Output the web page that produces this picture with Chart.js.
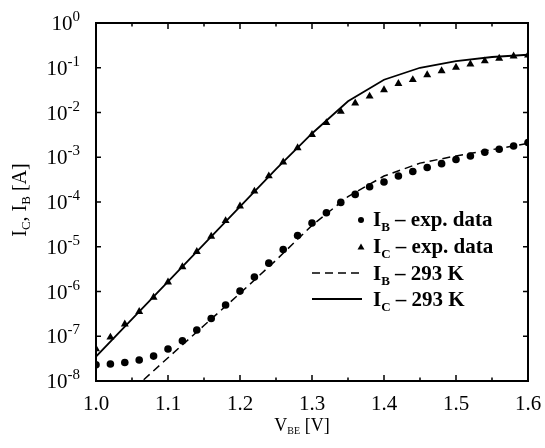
<!DOCTYPE html>
<html>
<head>
<meta charset="utf-8">
<script src="https://cdn.jsdelivr.net/npm/chart.js@4.4.1/dist/chart.umd.min.js"></script>
<style>
  html, body { margin: 0; padding: 0; background: #fff; }
  canvas { display: block; }
</style>
</head>
<body>
<canvas id="chart" width="545" height="448"></canvas>
<script>
// measured points, every 20 mV
const vbeExp = [1.00, 1.02, 1.04, 1.06, 1.08, 1.10, 1.12, 1.14, 1.16, 1.18, 1.20,
  1.22, 1.24, 1.26, 1.28, 1.30, 1.32, 1.34, 1.36, 1.38, 1.40,
  1.42, 1.44, 1.46, 1.48, 1.50, 1.52, 1.54, 1.56, 1.58, 1.60]
const ibExp = [2.3e-8, 2.4e-8, 2.6e-8, 2.95e-8, 3.6e-8, 5.2e-8, 7.9e-8, 1.38e-7, 2.5e-7, 5.0e-7, 1.02e-6,
  2.1e-6, 4.3e-6, 8.7e-6, 1.78e-5, 3.4e-5, 5.75e-5, 9.8e-5, 1.48e-4, 2.19e-4, 2.8e-4,
  3.8e-4, 4.8e-4, 5.9e-4, 7.2e-4, 8.9e-4, 1.07e-3, 1.29e-3, 1.51e-3, 1.78e-3, 2.14e-3]
const icExp = [5.2e-8, 9.5e-8, 1.86e-7, 3.55e-7, 7.4e-7, 1.62e-6, 3.55e-6, 7.8e-6, 1.7e-5, 3.8e-5, 8.1e-5,
  1.74e-4, 3.8e-4, 7.8e-4, 1.62e-3, 3.2e-3, 5.9e-3, 1.05e-2, 1.62e-2, 2.3e-2, 3.2e-2,
  4.4e-2, 5.4e-2, 6.9e-2, 8.5e-2, 0.102, 0.12, 0.141, 0.162, 0.182, 0.19]

// simulated curves (293 K)
const vbeModel = [1.00, 1.05, 1.10, 1.15, 1.20, 1.25, 1.30, 1.35, 1.40, 1.45, 1.50, 1.55, 1.60]
const ibModel = [1.1e-9, 6.2e-9, 3.3e-8, 1.74e-7, 9.1e-7, 5.0e-6, 3.0e-5, 1.32e-4, 3.8e-4, 7.4e-4, 1.07e-3, 1.48e-3, 2.04e-3]
const icModel = [3.5e-8, 2.4e-7, 1.66e-6, 1.15e-5, 7.9e-5, 5.4e-4, 3.4e-3, 1.78e-2, 5.4e-2, 0.1, 0.141, 0.174, 0.195]

const xTicks = [1.0, 1.1, 1.2, 1.3, 1.4, 1.5, 1.6]
const xMinorTicks = [1.05, 1.15, 1.25, 1.35, 1.45, 1.55]
const yTickExponents = [0, -1, -2, -3, -4, -5, -6, -7, -8]

const SERIF = '"Liberation Serif", "Times New Roman", serif'

const toPoints = (xs, ys) => xs.map((x, i) => ({ x: x, y: ys[i] }))

// text with sub/superscripts, parts = [[text, 'n'|'sub'|'sup'], ...]
function drawRich(ctx, parts, x, y, opts) {
  const w = opts.weight || 'normal'
  const fonts = {
    n: w + ' ' + opts.size + 'px ' + SERIF,
    sub: w + ' ' + opts.small + 'px ' + SERIF,
    sup: w + ' ' + opts.small + 'px ' + SERIF,
  }
  const shift = { n: 0, sub: opts.drop || 0, sup: -(opts.rise || 0) }
  let total = 0
  parts.forEach(p => {
    ctx.font = fonts[p[1]]
    total += ctx.measureText(p[0]).width
  })
  let cx = x
  if (opts.align === 'center') cx = x - total / 2
  if (opts.align === 'right') cx = x - total
  ctx.textAlign = 'left'
  ctx.textBaseline = 'alphabetic'
  parts.forEach(p => {
    ctx.font = fonts[p[1]]
    ctx.fillText(p[0], cx, y + shift[p[1]])
    cx += ctx.measureText(p[0]).width
  })
}

function triangle(ctx, x, y, r) {
  ctx.beginPath()
  ctx.moveTo(x, y - r)
  ctx.lineTo(x + r * 0.87, y + r * 0.5)
  ctx.lineTo(x - r * 0.87, y + r * 0.5)
  ctx.closePath()
  ctx.fill()
}

const framePlugin = {
  id: 'frame',
  afterDraw(chart) {
    const ctx = chart.ctx
    const { left, right, top, bottom } = chart.chartArea
    const xs = chart.scales.x
    const ys = chart.scales.y
    ctx.save()
    ctx.strokeStyle = '#000'
    ctx.fillStyle = '#000'
    ctx.lineWidth = 2
    ctx.strokeRect(left, top, right - left, bottom - top)

    // inward ticks
    ctx.lineWidth = 1.5
    ctx.beginPath()
    xTicks.forEach(v => {
      const px = xs.getPixelForValue(v)
      ctx.moveTo(px, bottom); ctx.lineTo(px, bottom - 6)
      ctx.moveTo(px, top); ctx.lineTo(px, top + 6)
    })
    xMinorTicks.forEach(v => {
      const px = xs.getPixelForValue(v)
      ctx.moveTo(px, bottom); ctx.lineTo(px, bottom - 3.5)
      ctx.moveTo(px, top); ctx.lineTo(px, top + 3.5)
    })
    yTickExponents.forEach(e => {
      const py = ys.getPixelForValue(Math.pow(10, e))
      ctx.moveTo(left, py); ctx.lineTo(left + 5, py)
      ctx.moveTo(right, py); ctx.lineTo(right - 5, py)
    })
    ctx.stroke()

    // tick labels
    ctx.font = '21px ' + SERIF
    ctx.textAlign = 'center'
    ctx.textBaseline = 'alphabetic'
    xTicks.forEach(v => {
      ctx.fillText(v.toFixed(1), xs.getPixelForValue(v), bottom + 29)
    })
    yTickExponents.forEach(e => {
      const py = ys.getPixelForValue(Math.pow(10, e))
      const expText = e === 0 ? '0' : '-' + Math.abs(e)
      drawRich(ctx, [['10', 'n'], [expText, 'sup']], left - 16, py + 7,
        { size: 21, small: 15, rise: 9, align: 'right' })
    })

    // axis titles
    drawRich(ctx, [['V', 'n'], ['BE', 'sub'], [' [V]', 'n']], 302, 431,
      { size: 18, small: 10, drop: 3, align: 'center' })
    ctx.save()
    ctx.translate(26, 200)
    ctx.rotate(-Math.PI / 2)
    drawRich(ctx, [['I', 'n'], ['C', 'sub'], [', I', 'n'], ['B', 'sub'], [' [A]', 'n']], 0, 0,
      { size: 20, small: 13, drop: 4, align: 'center' })
    ctx.restore()

    // legend
    const lx = 373
    const opts = { size: 21, small: 13, drop: 5, weight: 'bold', align: 'left' }
    ctx.beginPath()
    ctx.arc(361, 220, 3, 0, Math.PI * 2)
    ctx.fill()
    drawRich(ctx, [['I', 'n'], ['B', 'sub'], [' \u2013 exp. data', 'n']], lx, 226, opts)
    triangle(ctx, 361, 247.5, 4)
    drawRich(ctx, [['I', 'n'], ['C', 'sub'], [' \u2013 exp. data', 'n']], lx, 253, opts)
    ctx.lineWidth = 1.5
    ctx.setLineDash([8, 5])
    ctx.beginPath(); ctx.moveTo(312, 273); ctx.lineTo(362, 273); ctx.stroke()
    ctx.setLineDash([])
    drawRich(ctx, [['I', 'n'], ['B', 'sub'], [' \u2013 293 K', 'n']], lx, 280, opts)
    ctx.lineWidth = 1.8
    ctx.beginPath(); ctx.moveTo(312, 299); ctx.lineTo(362, 299); ctx.stroke()
    drawRich(ctx, [['I', 'n'], ['C', 'sub'], [' \u2013 293 K', 'n']], lx, 306, opts)
    ctx.restore()
  },
}

const ctxChart = document.getElementById('chart').getContext('2d')
const chart = new Chart(ctxChart, {
  type: 'scatter',
  data: {
    datasets: [
      {
        label: 'IB exp. data',
        data: toPoints(vbeExp, ibExp),
        pointStyle: 'circle',
        pointRadius: 3.8,
        backgroundColor: '#000',
        borderColor: '#000',
        borderWidth: 0,
      },
      {
        label: 'IC exp. data',
        data: toPoints(vbeExp, icExp),
        pointStyle: 'triangle',
        pointRadius: 4.6,
        backgroundColor: '#000',
        borderColor: '#000',
        borderWidth: 0,
      },
      {
        label: 'IB 293 K',
        data: toPoints(vbeModel, ibModel),
        showLine: true,
        pointRadius: 0,
        borderColor: '#000',
        borderWidth: 1.5,
        borderDash: [8, 5],
        tension: 0,
      },
      {
        label: 'IC 293 K',
        data: toPoints(vbeModel, icModel),
        showLine: true,
        pointRadius: 0,
        borderColor: '#000',
        borderWidth: 1.8,
        tension: 0,
      },
    ],
  },
  options: {
    responsive: false,
    animation: false,
    events: [],
    layout: { padding: { left: 96, right: 17, top: 23, bottom: 67 } },
    plugins: { legend: { display: false }, tooltip: { enabled: false } },
    scales: {
      x: { type: 'linear', min: 1.0, max: 1.6, display: false },
      y: { type: 'logarithmic', min: 1e-8, max: 1, display: false },
    },
  },
  plugins: [framePlugin],
})
</script>
</body>
</html>
